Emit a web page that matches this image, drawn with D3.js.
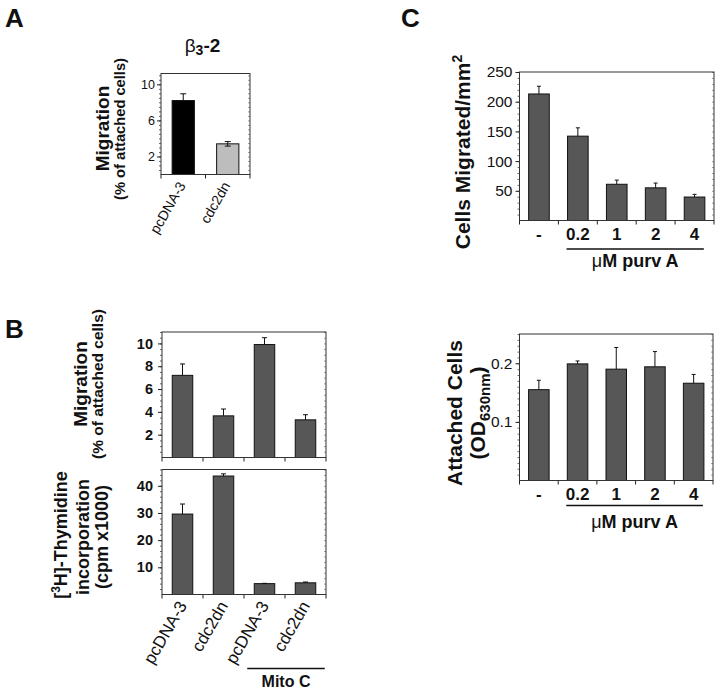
<!DOCTYPE html>
<html>
<head>
<meta charset="utf-8">
<script src="https://cdn.jsdelivr.net/npm/d3@7"></script>
<style>
  html, body { margin: 0; padding: 0; background: #fff; }
  svg { display: block; font-family: "Liberation Sans", Arial, Helvetica, sans-serif; }
  svg text { font-family: "Liberation Sans", Arial, Helvetica, sans-serif; }
</style>
</head>
<body>
<svg id="chart" width="720" height="691"></svg>
<script>
// ---------- Data ----------
// Panel A (beta3-2 cells)
const aCategories = ["pcDNA-3", "cdc2dn"];
const aMigration = [8.2, 3.4];
const aMigrationErr = [0.75, 0.25];
const aTicks = [2, 6, 10];

// Panel B
const bCategories = ["pcDNA-3", "cdc2dn", "pcDNA-3", "cdc2dn"];
const bMigration = [7.2, 3.65, 9.9, 3.3];
const bMigrationErr = [1.0, 0.6, 0.6, 0.45];
const bMigrationTicks = [2, 4, 6, 8, 10];
const bThymidine = [29.6, 43.6, 4.0, 4.3];
const bThymidineErr = [3.7, 0.8, 0.1, 0.3];
const bThymidineTicks = [10, 20, 30, 40];

// Panel C
const cCategories = ["-", "0.2", "1", "2", "4"];
const cMigrated = [213, 142, 61, 55, 39.5];
const cMigratedErr = [13, 14, 7, 8, 4.5];
const cMigratedTicks = [50, 100, 150, 200, 250];
const cAttached = [0.155, 0.199, 0.19, 0.194, 0.166];
const cAttachedErr = [0.016, 0.005, 0.037, 0.026, 0.015];
const cAttachedTicks = [0.1, 0.2];

// ---------- Drawing ----------
const FONT = "Liberation Sans, Arial, Helvetica, sans-serif";
const svg = d3.select("#chart");
const BAR = "#575757";

function drawPanel(cfg) {
  const g = svg.append("g");
  const y = d3.scaleLinear().domain(cfg.domain).range([cfg.y1, cfg.y0]);
  const idx = cfg.categories.map((d, i) => i);
  const x = d3.scaleBand().domain(idx).range([cfg.x0, cfg.x1])
    .paddingInner(cfg.pad).paddingOuter(cfg.pad / 2);

  // minor ticks
  const minor = d3.range(cfg.minorStep, cfg.domain[1] + 1e-9, cfg.minorStep);
  g.append("g").attr("transform", `translate(${cfg.x0},0)`)
    .call(d3.axisLeft(y).tickValues(minor).tickSize(2).tickFormat(""))
    .call(s => s.select(".domain").remove())
    .call(s => s.selectAll("line").attr("stroke", "#444").attr("stroke-width", 0.8));
  // right side minor ticks (inside)
  g.append("g").attr("transform", `translate(${cfg.x1},0)`)
    .call(d3.axisRight(y).tickValues(minor).tickSize(-2).tickFormat(""))
    .call(s => s.select(".domain").remove())
    .call(s => s.selectAll("line").attr("stroke", "#777").attr("stroke-width", 0.7));

  // major ticks with labels
  g.append("g").attr("transform", `translate(${cfg.x0},0)`)
    .call(d3.axisLeft(y).tickValues(cfg.ticks).tickSize(4).tickPadding(cfg.tickPad || 3)
      .tickFormat(cfg.tickFormat || (d => d)))
    .call(s => s.select(".domain").remove())
    .call(s => s.selectAll("line").attr("stroke", "#222"))
    .call(s => s.selectAll("text")
      .attr("font-family", FONT)
      .attr("font-size", cfg.tickSize)
      .attr("font-weight", cfg.tickWeight)
      .attr("fill", "#111"));

  // x-axis boundary ticks
  const bounds = d3.range(idx.length + 1).map(i => x.range()[0] + i * x.step());
  g.selectAll("line.xt").data(bounds).join("line")
    .attr("x1", d => d).attr("x2", d => d)
    .attr("y1", cfg.y1).attr("y2", cfg.y1 + 4)
    .attr("stroke", "#222").attr("stroke-width", 1);

  // bars
  g.selectAll("rect.bar").data(idx).join("rect")
    .attr("x", i => x(i))
    .attr("width", x.bandwidth())
    .attr("y", i => y(cfg.values[i]))
    .attr("height", i => cfg.y1 - y(cfg.values[i]))
    .attr("fill", i => cfg.fills ? cfg.fills[i] : BAR)
    .attr("stroke", "#111").attr("stroke-width", 1);

  // error bars
  const cap = cfg.cap || 5;
  idx.forEach(i => {
    const cx = x(i) + x.bandwidth() / 2;
    const v = cfg.values[i], e = cfg.errors[i];
    const both = cfg.errBoth && cfg.errBoth[i];
    const yTop = y(v + e), yBot = both ? y(v - e) : y(v);
    g.append("line").attr("x1", cx).attr("x2", cx).attr("y1", yTop).attr("y2", yBot)
      .attr("stroke", "#111").attr("stroke-width", 1);
    g.append("line").attr("x1", cx - cap / 2).attr("x2", cx + cap / 2).attr("y1", yTop).attr("y2", yTop)
      .attr("stroke", "#111").attr("stroke-width", 1);
    if (both) {
      g.append("line").attr("x1", cx - cap / 2).attr("x2", cx + cap / 2).attr("y1", yBot).attr("y2", yBot)
        .attr("stroke", "#111").attr("stroke-width", 1);
    }
  });

  // frame
  g.append("rect").attr("x", cfg.x0).attr("y", cfg.y0)
    .attr("width", cfg.x1 - cfg.x0).attr("height", cfg.y1 - cfg.y0)
    .attr("fill", "none").attr("stroke", "#333").attr("stroke-width", 1);

  // category labels
  if (cfg.rotLabels) {
    g.selectAll("text.xl").data(idx).join("text")
      .attr("transform", i => `translate(${x(i) + x.bandwidth() / 2 + cfg.rotDx},${cfg.y1 + cfg.rotDy}) rotate(-60)`)
      .attr("text-anchor", "end")
      .attr("font-family", FONT)
      .attr("font-size", cfg.labelSize)
      .attr("font-weight", cfg.labelWeight || "normal")
      .attr("fill", "#111")
      .text(i => cfg.categories[i]);
  } else if (cfg.flatLabels) {
    g.selectAll("text.xl").data(idx).join("text")
      .attr("x", i => x(i) + x.bandwidth() / 2)
      .attr("y", cfg.y1 + 19)
      .attr("text-anchor", "middle")
      .attr("font-family", FONT)
      .attr("font-size", cfg.labelSize)
      .attr("font-weight", "bold")
      .attr("fill", "#111")
      .text(i => cfg.categories[i]);
  }
  return { x, y, g };
}

function rotText(x, y, size, weight, parts) {
  const t = svg.append("text")
    .attr("transform", `translate(${x},${y}) rotate(-90)`)
    .attr("text-anchor", "middle")
    .attr("font-family", FONT)
    .attr("font-size", size)
    .attr("font-weight", weight)
    .attr("fill", "#111");
  parts.forEach(p => {
    const ts = t.append("tspan").text(p.t);
    if (p.size) ts.attr("font-size", p.size);
    if (p.dy) ts.attr("dy", p.dy);
    if (p.weight) ts.attr("font-weight", p.weight);
  });
  return t;
}

// ----- Panel letters -----
[["A", 5, 27], ["B", 5, 338], ["C", 401, 27]].forEach(([l, px, py]) => {
  svg.append("text").attr("x", px).attr("y", py).attr("font-family", FONT)
    .attr("font-size", 26).attr("font-weight", "bold").attr("fill", "#111").text(l);
});

// ----- Panel A -----
drawPanel({
  x0: 161, x1: 250, y0: 73.5, y1: 174.5, domain: [0, 11.2],
  categories: aCategories, values: aMigration, errors: aMigrationErr,
  fills: ["#000000", "#bdbdbd"], errBoth: [false, true],
  ticks: aTicks, minorStep: 0.5, tickSize: 12.5, tickWeight: "normal", tickPad: 2,
  pad: 0.5, cap: 6,
  rotLabels: true, rotDx: 3, rotDy: 11, labelSize: 14
});
// title beta3-2
(function () {
  const t = svg.append("text").attr("x", 202.5).attr("y", 51.5).attr("font-family", FONT)
    .attr("text-anchor", "middle").attr("font-size", 19).attr("fill", "#111");
  t.append("tspan").text("β");
  t.append("tspan").attr("font-size", 14).attr("font-weight", "bold").attr("dy", 3).text("3");
  t.append("tspan").attr("font-weight", "bold").attr("dy", -3).text("-2");
})();
rotText(109, 128.5, 19, "bold", [{ t: "Migration" }]);
rotText(125, 129, 14.7, "bold", [{ t: "(% of attached cells)" }]);

// ----- Panel B top -----
drawPanel({
  x0: 162, x1: 326, y0: 332, y1: 457.5, domain: [0, 11],
  categories: bCategories, values: bMigration, errors: bMigrationErr,
  ticks: bMigrationTicks, minorStep: 0.5, tickSize: 14.5, tickWeight: "bold", tickPad: 5,
  pad: 0.5, cap: 5
});
rotText(87, 384, 19, "bold", [{ t: "Migration" }]);
rotText(103, 384, 15.5, "bold", [{ t: "(% of attached cells)" }]);

// ----- Panel B bottom -----
const pb = drawPanel({
  x0: 162, x1: 326, y0: 469.5, y1: 594.5, domain: [0, 46],
  categories: bCategories, values: bThymidine, errors: bThymidineErr,
  ticks: bThymidineTicks, minorStep: 2, tickSize: 14.5, tickWeight: "bold", tickPad: 5,
  pad: 0.5, cap: 5,
  rotLabels: true, rotDx: 5, rotDy: 11, labelSize: 17
});
rotText(67, 535, 18, "bold", [
  { t: "[" }, { t: "3", size: 12, dy: -7 }, { t: "H]-Thymidine", dy: 7 }
]);
rotText(89, 537, 18, "bold", [{ t: "incorporation" }]);
rotText(108, 537, 18, "bold", [{ t: "(cpm x1000)" }]);
// Mito C
(function () {
  const x = pb.x;
  const xa = x(2) - 7, xb = x(3) + x.bandwidth() + 9;
  svg.append("line").attr("x1", xa).attr("x2", xb).attr("y1", 668.5).attr("y2", 668.5)
    .attr("stroke", "#111").attr("stroke-width", 1.3);
  svg.append("text").attr("x", (xa + xb) / 2).attr("y", 686.5).attr("text-anchor", "middle")
    .attr("font-family", FONT)
    .attr("font-size", 16).attr("font-weight", "bold").attr("fill", "#111").text("Mito C");
})();

// ----- Panel C top -----
const pc1 = drawPanel({
  x0: 519.5, x1: 714, y0: 72, y1: 220.5, domain: [0, 250],
  categories: cCategories, values: cMigrated, errors: cMigratedErr,
  ticks: cMigratedTicks, minorStep: 10, tickSize: 15.5, tickWeight: "normal", tickPad: 3,
  pad: 0.47, cap: 4,
  flatLabels: true, labelSize: 17
});
rotText(470, 152, 21, "bold", [
  { t: "Cells Migrated/mm" }, { t: "2", size: 14, dy: -8 }
]);

// ----- Panel C bottom -----
const pc2 = drawPanel({
  x0: 519.5, x1: 713, y0: 334, y1: 480.5, domain: [0, 0.25],
  categories: cCategories, values: cAttached, errors: cAttachedErr,
  ticks: cAttachedTicks, minorStep: 0.01, tickSize: 15.5, tickWeight: "normal", tickPad: 3,
  tickFormat: d3.format(".1f"),
  pad: 0.47, cap: 4,
  flatLabels: true, labelSize: 17
});
rotText(462, 413, 21, "bold", [{ t: "Attached Cells" }]);
rotText(485, 413, 21, "bold", [
  { t: "(OD" }, { t: "630nm", size: 15, dy: 5 }, { t: ")", dy: -5 }
]);

// purv A underlines and labels
[[pc1, 249, 266.5], [pc2, 505.5, 528]].forEach(([p, ly, ty]) => {
  const x = p.x;
  const xa = x(1) - 1, xb = x(4) + x.bandwidth() - 1;
  svg.append("line").attr("x1", xa).attr("x2", xb).attr("y1", ly).attr("y2", ly)
    .attr("stroke", "#111").attr("stroke-width", 1.5);
  const t = svg.append("text").attr("x", (xa + xb) / 2).attr("y", ty).attr("text-anchor", "middle")
    .attr("font-family", FONT)
    .attr("font-size", 18).attr("font-weight", "bold").attr("fill", "#111");
  t.append("tspan").attr("font-weight", "normal").text("μ");
  t.append("tspan").text("M purv A");
});
</script>
</body>
</html>
